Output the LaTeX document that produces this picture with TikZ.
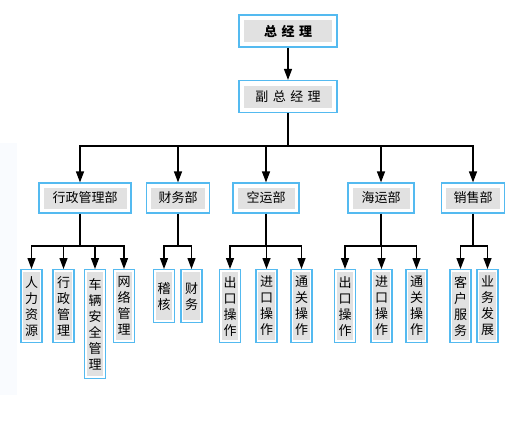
\documentclass[tikz,border=0pt]{standalone}
\usepackage{fontspec}
\newfontfamily\cjk{Noto Sans CJK SC}
\usepackage{tikz}
\usetikzlibrary{arrows.meta}
\definecolor{boxblue}{RGB}{84,186,240}
\definecolor{boxgray}{RGB}{225,225,225}
\definecolor{bandblue}{RGB}{249,251,254}
\newcommand{\jiange}{\hspace{4.5pt}}

\begin{document}
\begin{tikzpicture}[x=1pt,y=-1pt,>={Triangle[length=11pt,width=8pt]},
  box/.style={rectangle,draw=boxblue,line width=1.2pt,fill=white,inner sep=0pt,text=black,align=center,
    path picture={\fill[boxgray] ([shift={(#1,-#1)}]path picture bounding box.north west) rectangle ([shift={(-#1,#1)}]path picture bounding box.south east);}},
  topbox/.style={box=5pt,minimum width=98pt,minimum height=32pt,font=\cjk\fontsize{13}{15}\selectfont},
  deptbox/.style={box=4.5pt,minimum width=64pt,minimum height=30pt,font=\cjk\fontsize{13}{15}\selectfont},
  subbox/.style={box=2.2pt,minimum width=21pt,font=\cjk\fontsize{13}{16}\selectfont,anchor=north},
  link/.style={draw=black,line width=1.3pt}]
\useasboundingbox (0,0) rectangle (524,421);
\fill[bandblue] (0,143) rectangle (17,395);
% top levels
\node[topbox] (gm) at (288,31) {\bfseries 总\jiange 经\jiange 理};
\node[topbox] (vgm) at (288,96.5) {副\jiange 总\jiange 经\jiange 理};
% departments
\node[deptbox,minimum width=92pt] (admin) at (85,198) {行政管理部};
\node[deptbox,minimum width=63pt] (fin) at (178,198) {财务部};
\node[deptbox,minimum width=66pt] (air) at (266,198) {空运部};
\node[deptbox,minimum width=66pt] (sea) at (381,198) {海运部};
\node[deptbox,minimum width=63pt] (sales) at (473,198) {销售部};
% sections
\node[subbox,minimum height=73pt] (hr) at (31.5,269) {人\\力\\资\\源};
\node[subbox,minimum height=73pt] (office) at (63.5,269) {行\\政\\管\\理};
\node[subbox,minimum height=109pt] (fleet) at (95,269) {车\\辆\\安\\全\\管\\理};
\node[subbox,minimum height=73pt] (net) at (124,269) {网\\络\\管\\理};
\node[subbox,minimum height=53pt] (audit) at (164,269) {稽\\核};
\node[subbox,minimum height=53pt] (acct) at (191.5,269) {财\\务};
\node[subbox,minimum height=73pt] (airexp) at (230,269) {出\\口\\操\\作};
\node[subbox,minimum height=73pt] (airimp) at (266.5,269) {进\\口\\操\\作};
\node[subbox,minimum height=73pt] (aircus) at (301.5,269) {通\\关\\操\\作};
\node[subbox,minimum height=73pt] (seaexp) at (345,269) {出\\口\\操\\作};
\node[subbox,minimum height=73pt] (seaimp) at (381.5,269) {进\\口\\操\\作};
\node[subbox,minimum height=73pt] (seacus) at (416.5,269) {通\\关\\操\\作};
\node[subbox,minimum height=73pt] (service) at (460.5,269) {客\\户\\服\\务};
\node[subbox,minimum height=73pt] (bizdev) at (487.5,269) {业\\务\\发\\展};
% connectors
\draw[link,->] (gm) -- (vgm);
\coordinate (bus) at (288,146);
\coordinate (admintop) at ([xshift=-5pt]admin.north);
\coordinate (adminbot) at ([xshift=-5pt]admin.south);
\draw[link] (vgm) -- (bus);
\foreach \d in {admintop,fin,air,sea,sales}
  \draw[link,->] (bus) -| (\d);
\coordinate (adminbus) at (80,246);
\draw[link] (adminbot) -- (adminbus);
\foreach \s in {hr,office,fleet,net}
  \draw[link,->] (adminbus) -| (\s);
\coordinate (finbus) at (178,246);
\draw[link] (fin) -- (finbus);
\foreach \s in {audit,acct}
  \draw[link,->] (finbus) -| (\s);
\coordinate (airbus) at (266,246);
\draw[link] (air) -- (airbus);
\foreach \s in {airexp,airimp,aircus}
  \draw[link,->] (airbus) -| (\s);
\coordinate (seabus) at (381,246);
\draw[link] (sea) -- (seabus);
\foreach \s in {seaexp,seaimp,seacus}
  \draw[link,->] (seabus) -| (\s);
\coordinate (salesbus) at (473,246);
\draw[link] (sales) -- (salesbus);
\foreach \s in {service,bizdev}
  \draw[link,->] (salesbus) -| (\s);
\end{tikzpicture}
\end{document}
